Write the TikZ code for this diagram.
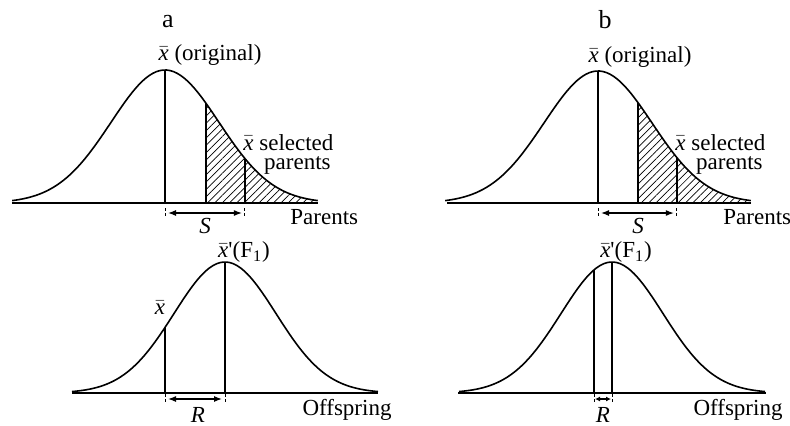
\documentclass[tikz,border=0pt]{standalone}
\usepackage{fontspec}
\setmainfont{Liberation Serif}
\usetikzlibrary{arrows.meta, patterns.meta}
\newcommand{\xmean}{\ensuremath{\bar{\mbox{\itshape x}}}}

\begin{document}
\begin{tikzpicture}[
        x=0.5pt, y=-0.5pt,
        declare function={bell(\t)=exp(-\t*\t/2);},
        bellcurve/.style={line width=0.8pt},
        axisline/.style={line width=0.6pt},
        meanline/.style={line width=0.7pt},
        hatch/.style={pattern={Lines[angle=45, distance=2.6pt, line width=0.35pt]}},
        shiftarrow/.style={line width=0.6pt, {Latex[length=4pt,width=3pt]}-{Latex[length=4pt,width=3pt]}, shorten <=1.5pt, shorten >=1.5pt},
        tickline/.style={line width=0.5pt, dash pattern=on 1.5pt off 1pt},
        lbl/.style={font=\fontsize{11.5}{13}\selectfont, inner sep=0pt},
        panel/.style={font=\fontsize{13}{15}\selectfont, inner sep=0pt}
    ]
        \useasboundingbox (0,0) rectangle (790,425);

        % panel a, parents
        \coordinate (pa-left) at (12,203);
        \coordinate (pa-right) at (318,203);
        \coordinate (pa-mean) at (165,203);
        \coordinate (pa-meantop) at (165,70);
        \coordinate (pa-cut) at ({165+54*0.76},203);
        \coordinate (pa-cuttop) at ({165+54*0.76},{203-133*bell(0.76)});
        \coordinate (pa-sel) at ({165+54*1.48},203);
        \coordinate (pa-seltop) at ({165+54*1.48},{203-133*bell(1.48)});
        \coordinate (pa-s1) at (165,213);
        \coordinate (pa-s2) at ({165+54*1.48},213);

        \path[hatch] plot[domain=0.76:2.83, samples=40, smooth] ({165+54*\x},{203-133*bell(\x)}) -- (pa-right) -- (pa-cut) -- cycle;
        \draw[bellcurve] plot[domain=-2.83:2.83, samples=90, smooth] ({165+54*\x},{203-133*bell(\x)});
        \draw[axisline] (pa-left) -- (pa-right);
        \draw[meanline] (pa-mean) -- (pa-meantop);
        \draw[meanline] (pa-cut) -- (pa-cuttop);
        \draw[meanline] (pa-sel) -- (pa-seltop);
        \draw[tickline] (165,208) -- (165,218);
        \draw[tickline] ({165+54*1.48},208) -- ({165+54*1.48},218);
        \draw[shiftarrow] (pa-s1) -- (pa-s2);

        \node[panel] (pa-title) at (168,22) {a};
        \node[lbl] (pa-orig) at (210,55) {\xmean{} (original)};
        \node[lbl, anchor=base west] (pa-seltext) at (243,150) {\xmean{} selected};
        \node[lbl, anchor=base east] (pa-parents) at (331,169) {parents};
        \node[lbl] (pa-S) at (205,226) {\textit{S}};
        \node[lbl, anchor=west] (pa-name) at (290,217) {Parents};

        % panel a, offspring
        \coordinate (oa-left) at (72,393);
        \coordinate (oa-right) at (378,393);
        \coordinate (oa-mean) at (225,393);
        \coordinate (oa-meantop) at (225,262);
        \coordinate (oa-old) at (165,393);
        \coordinate (oa-oldtop) at (165,{393-131*bell(60/51)});
        \coordinate (oa-r1) at (165,399);
        \coordinate (oa-r2) at (225,399);

        \draw[bellcurve] plot[domain=-3:3, samples=90, smooth] ({225+51*\x},{393-131*bell(\x)});
        \draw[axisline] (oa-left) -- (oa-right);
        \draw[meanline] (oa-mean) -- (oa-meantop);
        \draw[meanline] (oa-old) -- (oa-oldtop);
        \draw[tickline] (165,394) -- (165,404);
        \draw[tickline] (225,394) -- (225,404);
        \draw[shiftarrow] (oa-r1) -- (oa-r2);

        \node[lbl] (oa-xbar) at (160,308) {\xmean};
        \node[lbl] (oa-F1) at (244,252) {\xmean\textquotesingle(F\textsubscript{1})};
        \node[lbl] (oa-R) at (198,415) {\textit{R}};
        \node[lbl] (oa-name) at (347,410) {Offspring};

        % panel b, parents
        \coordinate (pb-left) at (447,203);
        \coordinate (pb-right) at (751,203);
        \coordinate (pb-mean) at (598,203);
        \coordinate (pb-meantop) at (598,71);
        \coordinate (pb-cut) at ({598+54*0.74},203);
        \coordinate (pb-cuttop) at ({598+54*0.74},{203-132*bell(0.74)});
        \coordinate (pb-sel) at ({598+54*1.46},203);
        \coordinate (pb-seltop) at ({598+54*1.46},{203-132*bell(1.46)});
        \coordinate (pb-s1) at (598,213);
        \coordinate (pb-s2) at ({598+54*1.46},213);

        \path[hatch] plot[domain=0.74:2.83, samples=40, smooth] ({598+54*\x},{203-132*bell(\x)}) -- (pb-right) -- (pb-cut) -- cycle;
        \draw[bellcurve] plot[domain=-2.83:2.83, samples=90, smooth] ({598+54*\x},{203-132*bell(\x)});
        \draw[axisline] (pb-left) -- (pb-right);
        \draw[meanline] (pb-mean) -- (pb-meantop);
        \draw[meanline] (pb-cut) -- (pb-cuttop);
        \draw[meanline] (pb-sel) -- (pb-seltop);
        \draw[tickline] (598,208) -- (598,218);
        \draw[tickline] ({598+54*1.46},208) -- ({598+54*1.46},218);
        \draw[shiftarrow] (pb-s1) -- (pb-s2);

        \node[panel] (pb-title) at (605,20) {b};
        \node[lbl] (pb-orig) at (640,57) {\xmean{} (original)};
        \node[lbl, anchor=base west] (pb-seltext) at (675,150) {\xmean{} selected};
        \node[lbl, anchor=base east] (pb-parents) at (763,169) {parents};
        \node[lbl] (pb-S) at (638,226) {\textit{S}};
        \node[lbl, anchor=west] (pb-name) at (723,217) {Parents};

        % panel b, offspring
        \coordinate (ob-left) at (458,393);
        \coordinate (ob-right) at (766,393);
        \coordinate (ob-mean) at (612,393);
        \coordinate (ob-meantop) at (612,262);
        \coordinate (ob-old) at (594,393);
        \coordinate (ob-oldtop) at (594,{393-131*bell(18/51)});
        \coordinate (ob-r1) at (594,399);
        \coordinate (ob-r2) at (612,399);

        \draw[bellcurve] plot[domain=-3:3, samples=90, smooth] ({612+51*\x},{393-131*bell(\x)});
        \draw[axisline] (ob-left) -- (ob-right);
        \draw[meanline] (ob-mean) -- (ob-meantop);
        \draw[meanline] (ob-old) -- (ob-oldtop);
        \draw[tickline] (594,394) -- (594,404);
        \draw[tickline] (612,394) -- (612,404);
        \draw[shiftarrow, {Latex[length=2.5pt,width=2.5pt]}-{Latex[length=2.5pt,width=2.5pt]}, shorten <=0.5pt, shorten >=0.5pt] (ob-r1) -- (ob-r2);

        \node[lbl] (ob-F1) at (626,252) {\xmean\textquotesingle(F\textsubscript{1})};
        \node[lbl] (ob-R) at (603,415) {\textit{R}};
        \node[lbl] (ob-name) at (738,410) {Offspring};
    \end{tikzpicture}
\end{document}
